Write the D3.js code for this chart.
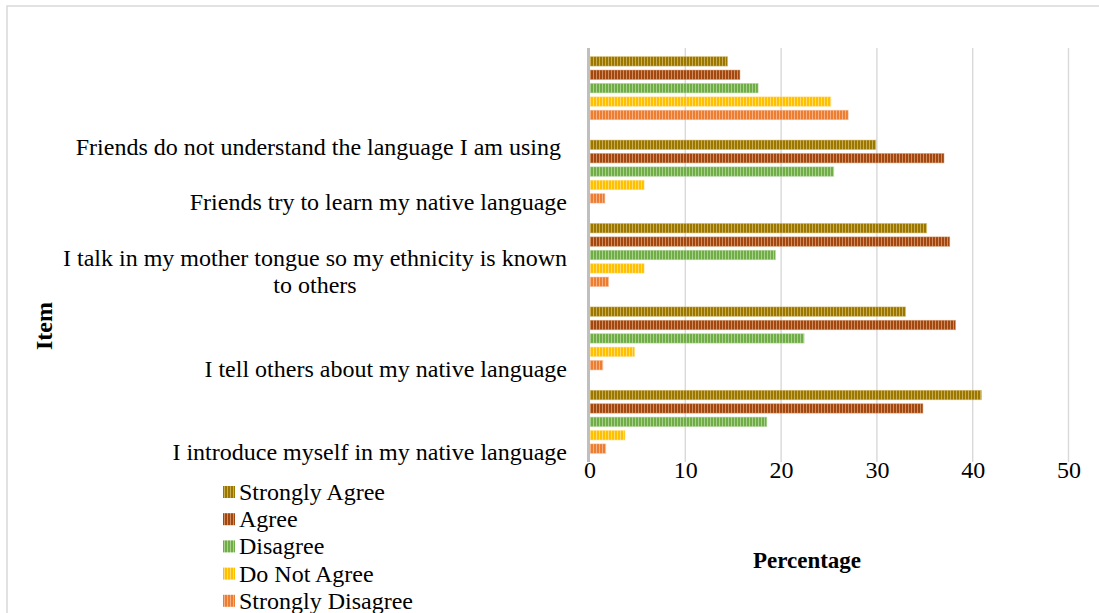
<!DOCTYPE html>
<html>
<head>
<meta charset="utf-8">
<script src="https://cdn.jsdelivr.net/npm/d3@7"></script>
<style>
  html, body { margin: 0; padding: 0; background: #fff; }
  svg { display: block; font-family: "Liberation Serif", "Times New Roman", serif; }
</style>
</head>
<body>
<svg id="chart" width="1099" height="613"></svg>
<script>
// Items, listed top to bottom as drawn
const items = [
  "Friends do not understand the language I am using ",
  "Friends try to learn my native language",
  "I talk in my mother tongue so my ethnicity is known|to others",
  "I tell others about my native language",
  "I introduce myself in my native language"
];

// Response levels, in the order the bars appear within each group
const responses = ["Strongly Agree", "Agree", "Disagree", "Do Not Agree", "Strongly Disagree"];

// Percentage of respondents per item (same order as items)
const stronglyAgree    = [14.4, 29.9, 35.2, 33.0, 40.9];
const agree            = [15.7, 37.0, 37.6, 38.2, 34.8];
const disagree         = [17.6, 25.5, 19.4, 22.4, 18.5];
const doNotAgree       = [25.2,  5.7,  5.7,  4.7,  3.7];
const stronglyDisagree = [27.0,  1.6,  2.0,  1.4,  1.7];

const xTicks = [0, 10, 20, 30, 40, 50];

const seriesValues = [stronglyAgree, agree, disagree, doNotAgree, stronglyDisagree];

// Base colour and lighter stripe colour for each response level
const colors = [
  ["#9b7700", "#c9ad55"],
  ["#a1470f", "#d08d5e"],
  ["#70ad47", "#a9d18e"],
  ["#ffc000", "#ffdb70"],
  ["#ed7d31", "#f5b084"]
];

const svg = d3.select("#chart");

// Outer chart frame
svg.append("rect")
  .attr("x", 7).attr("y", 6).attr("width", 1110).attr("height", 640)
  .attr("fill", "#fff").attr("stroke", "#d9d9d9").attr("stroke-width", 1.5);

// Vertical stripe fills
const defs = svg.append("defs");
colors.forEach((c, i) => {
  const p = defs.append("pattern")
    .attr("id", "stripe" + i)
    .attr("patternUnits", "userSpaceOnUse")
    .attr("width", 3).attr("height", 10);
  p.append("rect").attr("width", 3).attr("height", 10).attr("fill", c[1]);
  p.append("rect").attr("width", 2).attr("height", 10).attr("fill", c[0]);
});

const plot = { left: 589.5, right: 1068.5, top: 48, bottom: 462 };

const x = d3.scaleLinear().domain([0, 50]).range([plot.left, plot.right]);

const y = d3.scaleBand()
  .domain(d3.range(items.length))
  .range([plot.top, plot.bottom])
  .paddingInner(0.197)
  .paddingOuter(0.08);

const ySub = d3.scaleBand()
  .domain(d3.range(responses.length))
  .range([0, y.bandwidth()])
  .paddingInner(0.3)
  .paddingOuter(0.15);

// Gridlines
svg.append("g")
  .selectAll("line")
  .data(xTicks.filter(t => t > 0))
  .join("line")
  .attr("x1", d => x(d)).attr("x2", d => x(d))
  .attr("y1", plot.top).attr("y2", plot.bottom)
  .attr("stroke", "#d9d9d9").attr("stroke-width", 1.4);

// Bars
const rows = [];
items.forEach((item, i) => {
  seriesValues.forEach((vals, s) => rows.push({ i, s, v: vals[i] }));
});

svg.append("g")
  .selectAll("rect")
  .data(rows)
  .join("rect")
  .attr("x", x(0))
  .attr("y", d => y(d.i) + ySub(d.s))
  .attr("width", d => x(d.v) - x(0))
  .attr("height", ySub.bandwidth())
  .attr("fill", d => `url(#stripe${d.s})`)
  .attr("stroke", d => colors[d.s][1])
  .attr("stroke-opacity", 0.6)
  .attr("stroke-width", 0.8);

// Category axis line
svg.append("line")
  .attr("x1", x(0) - 1).attr("x2", x(0) - 1)
  .attr("y1", plot.top).attr("y2", plot.bottom)
  .attr("stroke", "#bfbfbf").attr("stroke-width", 3);

// Value axis tick labels
const xAxis = d3.axisBottom(x).tickValues(xTicks).tickSize(0).tickPadding(0).tickFormat(d3.format("d"));
const gx = svg.append("g")
  .attr("transform", `translate(0,${plot.bottom})`)
  .call(xAxis);
gx.select(".domain").remove();
gx.selectAll("text")
  .attr("dy", null)
  .attr("y", 16)
  .attr("font-size", 24)
  .attr("font-family", "Liberation Serif, Times New Roman, serif")
  .attr("fill", "#000");

// Category labels: last line sits near the foot of its band
const labelRight = 567;
const lineGap = 27;
const labelShift = { 0: 29 };
const gy = svg.append("g").attr("font-size", 24).attr("fill", "#000");
items.forEach((item, i) => {
  const lines = item.split("|");
  const lastBase = y(i) + y.bandwidth() + y.step() * 0.08 - 2 + (labelShift[i] || 0);
  const first = gy.append("text")
    .attr("x", labelRight)
    .attr("y", lastBase - (lines.length - 1) * lineGap)
    .attr("text-anchor", "end")
    .style("white-space", "pre")
    .text(lines[0]);
  if (lines.length > 1) {
    const w = first.node().getComputedTextLength();
    const cx = labelRight - w / 2;
    lines.slice(1).forEach((ln, k) => {
      gy.append("text")
        .attr("x", cx)
        .attr("y", lastBase - (lines.length - 2 - k) * lineGap)
        .attr("text-anchor", "middle")
        .text(ln);
    });
  }
});

// Axis titles
svg.append("text")
  .attr("x", 807).attr("y", 568)
  .attr("text-anchor", "middle")
  .attr("font-size", 23).attr("font-weight", "bold")
  .text("Percentage");

svg.append("text")
  .attr("transform", "translate(52,326) rotate(-90)")
  .attr("text-anchor", "middle")
  .attr("font-size", 24).attr("font-weight", "bold")
  .text("Item");

// Legend
const legend = svg.append("g").attr("font-size", 24);
responses.forEach((r, s) => {
  const cy = 492 + s * 27.2;
  legend.append("rect")
    .attr("x", 223).attr("y", cy - 6)
    .attr("width", 12).attr("height", 12)
    .attr("fill", `url(#stripe${s})`);
  legend.append("text")
    .attr("x", 239).attr("y", cy + 8)
    .text(r);
});
</script>
</body>
</html>
